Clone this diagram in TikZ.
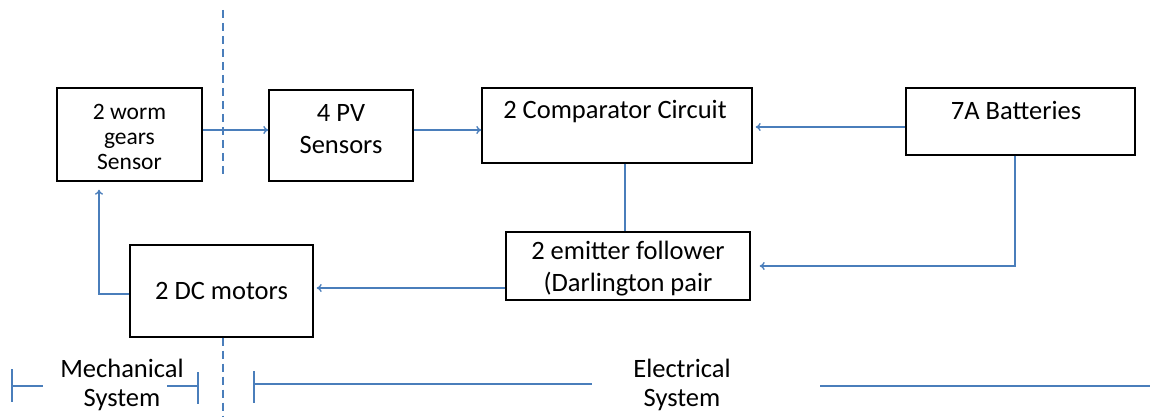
\documentclass[tikz,border=0pt]{standalone}
\usepackage{fontspec}
\setmainfont{Carlito}
\usetikzlibrary{arrows.meta}
\definecolor{lineblue}{RGB}{74,126,187}
\tikzset{
  box/.style={draw=black, line width=1.4pt, rectangle, inner sep=0pt},
  lbl/.style={font=\fontsize{26.5}{32}\selectfont, align=center, inner sep=0pt, text=black},
  small/.style={font=\fontsize{23.5}{25}\selectfont, align=center, inner sep=0pt, text=black},
  conn/.style={draw=lineblue, line width=1.3pt},
  arr/.style={conn, -{To[length=5pt,width=8pt]}},
  divider/.style={draw=lineblue, line width=1.3pt, dash pattern=on 8pt off 5pt},
}
\begin{document}
\begin{tikzpicture}[x=1pt,y=-1pt]
\useasboundingbox (0,0) rectangle (1163,417);
% boxes
\node[box, minimum width=145pt, minimum height=93pt] (worm) at (129.5,134.5) {};
\node[small] (wormtxt) at (129.5,137) {2 worm\\gears\\Sensor};
\node[box, minimum width=144pt, minimum height=91pt] (pv) at (341,135.5) {};
\node[lbl] (pvtxt) at (341,129) {4 PV\\Sensors};
\node[box, minimum width=270pt, minimum height=75pt] (comp) at (617,125.5) {};
\node[lbl] (comptxt) at (615,112) {2 Comparator Circuit};
\node[box, minimum width=229pt, minimum height=67pt] (batt) at (1020.5,121.5) {};
\node[lbl] (batttxt) at (1016,110) {7A Batteries};
\node[box, minimum width=244pt, minimum height=68pt] (emit) at (628,266) {};
\node[lbl] (emittxt) at (628,269) {2 emitter follower\\(Darlington pair};
\node[box, minimum width=183pt, minimum height=92pt, lbl] (dc) at (221.5,291) {2 DC motors};
% helper coordinates
\coordinate (ya) at (0,130);
\coordinate (yb) at (0,127);
\coordinate (yc) at (0,266);
\coordinate (yd) at (0,288);
\coordinate (ye) at (0,294);
\coordinate (xc) at (625,0);
\coordinate (xb) at (1015,0);
\coordinate (xw) at (99,0);
\coordinate (bcorner) at (1015,266);
\coordinate (wcorner) at (99,294);
% connectors
\draw[arr] (worm.east |- ya) -- (pv.west |- ya);
\draw[arr] (pv.east |- ya) -- (comp.west |- ya);
\draw[arr, shorten >=3pt] (batt.west |- yb) -- (comp.east |- yb);
\draw[conn] (comp.south -| xc) -- (emit.north -| xc);
\draw[arr, shorten >=9pt] (batt.south -| xb) -- (bcorner) -- (emit.east |- yc);
\draw[arr, shorten >=3pt] (emit.west |- yd) -- (dc.east |- yd);
\draw[arr, shorten >=8pt] (dc.west |- ye) -- (wcorner) -- (worm.south -| xw);
% dividers
\coordinate (dtop) at (223,10);
\coordinate (dtopend) at (223,176);
\coordinate (dbot) at (223,417);
\draw[divider] (dtop) -- (dtopend);
\draw[divider] (dc.south -| dtop) -- (dbot);
% system labels
\node[lbl] (mech1) at (122,368) {Mechanical};
\node[lbl] (mech2) at (122,400) {System};
\node[lbl] (elec1) at (682,368) {Electrical};
\node[lbl] (elec2) at (682,400) {System};
% brackets
\coordinate (m1a) at (12,369); \coordinate (m1b) at (12,402);
\coordinate (m1c) at (12,386); \coordinate (m1d) at (43,386);
\coordinate (m2a) at (198,372); \coordinate (m2b) at (198,404);
\coordinate (m2c) at (167,386); \coordinate (m2d) at (198,386);
\coordinate (e1a) at (254,371); \coordinate (e1b) at (254,403);
\coordinate (e1c) at (254,384); \coordinate (e1d) at (592,384);
\coordinate (e2c) at (820,386); \coordinate (e2d) at (1150,386);
\draw[conn] (m1a) -- (m1b);
\draw[conn] (m1c) -- (m1d);
\draw[conn] (m2c) -- (m2d);
\draw[conn] (m2a) -- (m2b);
\draw[conn] (e1a) -- (e1b);
\draw[conn] (e1c) -- (e1d);
\draw[conn] (e2c) -- (e2d);
\end{tikzpicture}
\end{document}
